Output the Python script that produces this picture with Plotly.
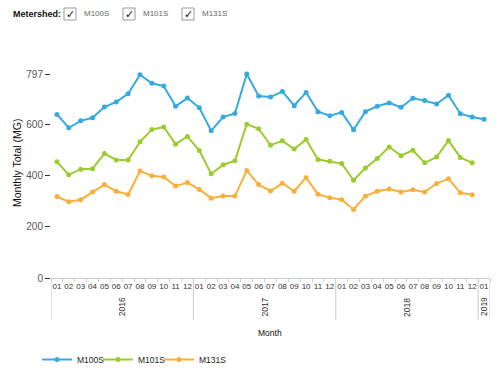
import plotly.graph_objects as go

years = ["2016", "2017", "2018", "2019"]
month_labels = ["01", "02", "03", "04", "05", "06", "07", "08", "09", "10", "11", "12"]
categories = [f"{y}-{m}" for y in years[:3] for m in month_labels] + ["2019-01"]
tick_labels = month_labels * 3 + ["01"]

m100s = [639, 587, 614, 626, 668, 688, 720, 794, 761, 750, 671, 703,
         665, 575, 629, 643, 797, 711, 707, 729, 673, 725, 650, 634,
         647, 579, 650, 671, 684, 667, 702, 693, 680, 714, 642, 629,
         620]
m101s = [454, 403, 425, 427, 486, 461, 461, 532, 580, 590, 523, 553,
         498, 407, 442, 458, 601, 583, 519, 536, 504, 541, 463, 456,
         447, 382, 430, 467, 512, 478, 499, 450, 473, 537, 471, 450]
m131s = [318, 298, 306, 336, 365, 339, 326, 418, 399, 395, 359, 373,
         346, 312, 320, 320, 420, 365, 340, 370, 339, 392, 327, 314,
         306, 268, 320, 339, 348, 336, 345, 336, 369, 388, 333, 325]

series_names = ["M100S", "M101S", "M131S"]
series_values = [m100s, m101s, m131s]
colors = ["#36a9e1", "#9bcb2f", "#f9b03b"]
y_ticks = [0, 200, 400, 600, 797]

W, H = 500, 371
L, R, T, B = 51, 10, 74, 93
PW, PH = W - L - R, H - T - B


def px(x):
    return (x - L) / PW


def py(y):
    return (H - B - y) / PH


fig = go.Figure()
for name, vals, c in zip(series_names, series_values, colors):
    fig.add_trace(go.Scatter(
        x=categories[:len(vals)], y=vals, name=name, mode="lines+markers",
        line=dict(color=c, width=2), marker=dict(color=c, size=5),
        cliponaxis=False,
    ))
# invisible spacer entry so the last legend label is not clipped
fig.add_trace(go.Scatter(x=[None], y=[None], name=" ", mode="lines",
                         line=dict(color="rgba(0,0,0,0)"), hoverinfo="skip"))

font = "Liberation Sans, Arial, sans-serif"
fig.update_layout(
    width=W, height=H, margin=dict(l=L, r=R, t=T, b=B, autoexpand=False),
    paper_bgcolor="white", plot_bgcolor="white",
    font=dict(family=font, size=9, color="#333"),
    showlegend=True,
    legend=dict(orientation="h", x=px(37), xanchor="left", y=py(345), yanchor="top",
                font=dict(size=8.5, color="#222"), entrywidth=16, entrywidthmode="pixels",
                itemwidth=30, bgcolor="rgba(0,0,0,0)"),
)
fig.update_xaxes(
    type="category", categoryorder="array", categoryarray=categories,
    range=[-0.5, len(categories) - 0.5], automargin=False,
    tickmode="array", tickvals=categories, ticktext=tick_labels,
    tickson="boundaries", ticks="outside", ticklen=3, tickcolor="#cccccc",
    showline=True, linecolor="#cccccc", linewidth=1, showgrid=False, zeroline=False,
    tickfont=dict(size=8, color="#333"), tickangle=0,
)
fig.update_yaxes(
    range=[0, 797], tickmode="array", tickvals=y_ticks, automargin=False,
    showgrid=False, zeroline=False, showline=False,
    ticks="outside", ticklen=5, tickcolor="#333",
    tickfont=dict(size=10, color="#555"),
)

# year dividers and labels
year_bounds = [-0.5, 11.5, 23.5, 35.5, 36.5]
for xb in year_bounds:
    fig.add_shape(type="line", xref="x", yref="paper", x0=xb, x1=xb, y0=0, y1=py(320),
                  line=dict(color="#cccccc", width=1))
for i, yr in enumerate(years):
    xc = (year_bounds[i] + year_bounds[i + 1]) / 2
    fig.add_annotation(x=xc, xref="x", y=py(307), yref="paper", text=yr, textangle=-90,
                       xanchor="center", yanchor="middle",
                       showarrow=False, font=dict(size=8.5, color="#333"))

fig.add_annotation(x=px(270), xref="paper", y=py(333), yref="paper", text="Month",
                   xanchor="center", yanchor="middle",
                   showarrow=False, font=dict(size=8.5, color="#111"))
fig.add_annotation(x=px(17), xref="paper", y=py(163), yref="paper", text="Monthly Total (MG)",
                   xanchor="center", yanchor="middle",
                   textangle=-90, showarrow=False, font=dict(size=10.5, color="#111"))

# header: Metershed checkboxes
fig.add_annotation(x=px(11), xref="paper", xanchor="left", y=py(14), yref="paper",
                   yanchor="middle", text="<b>Metershed:</b>", showarrow=False,
                   font=dict(size=9, color="#111"))
box_lefts = [64, 123, 182]
for bl, name in zip(box_lefts, series_names):
    fig.add_shape(type="rect", xref="paper", yref="paper", x0=px(bl), x1=px(bl + 12),
                  y0=py(20), y1=py(8), line=dict(color="#999", width=1), fillcolor="white")
    fig.add_annotation(x=px(bl + 6), xref="paper", y=py(14), yref="paper", text="✓",
                       xanchor="center", yanchor="middle",
                       showarrow=False, font=dict(size=11, color="#111"))
    fig.add_annotation(x=px(bl + 18), xref="paper", xanchor="left", y=py(14), yref="paper",
                       yanchor="middle", text=name, showarrow=False,
                       font=dict(size=8, color="#666"))

fig.write_html("out.html", config={"displayModeBar": False},
               post_script="document.body.style.margin='0';")
